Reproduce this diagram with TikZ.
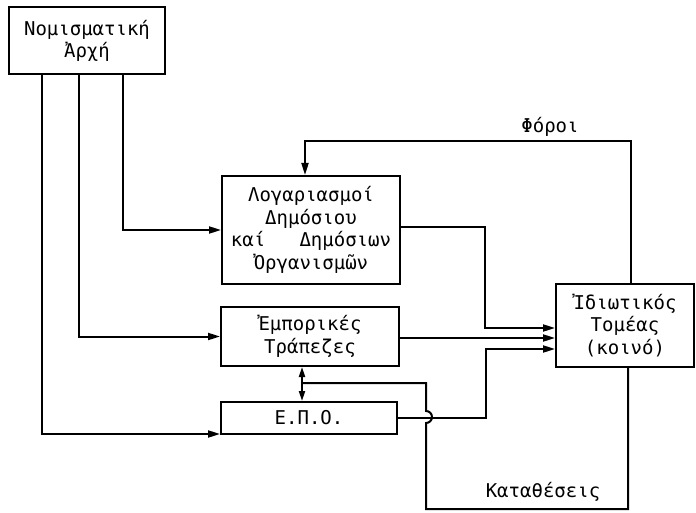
\documentclass[tikz,border=0pt]{standalone}
\usepackage{fontspec}
\newfontfamily\grmono{DejaVu Sans Mono}
\usetikzlibrary{arrows.meta, positioning, calc}

\begin{document}
\begin{tikzpicture}[x=1pt, y=-1pt, line width=2pt,
    box/.style={draw, align=center, inner sep=0pt, font=\grmono\fontsize{19}{22.5}\selectfont},
    lbl/.style={font=\grmono\fontsize{19}{22.5}\selectfont},
    arr/.style={-{Triangle[length=12pt,width=7pt]}},
    darr/.style={{Triangle[length=10pt,width=6pt]}-{Triangle[length=10pt,width=6pt]}}]
    \useasboundingbox (0,0) rectangle (696,513);

    % Boxes
    \node[box, minimum width=156pt, minimum height=67pt] (na) at (87,41) {Νομισματική\\Ἀρχή};
    \node[box, minimum width=178pt, minimum height=108pt] (log) at (311,230)
        {Λογαριασμοί\\Δημόσιου\\καί\ \ \ Δημόσιων\\Ὀργανισμῶν};
    \node[box, minimum width=178pt, minimum height=59pt] (emp) at (310,336.5) {Ἐμπορικές\\Τράπεζες};
    \node[box, minimum width=176pt, minimum height=32pt] (epo) at (309,418) {Ε.Π.Ο.};
    \node[box, minimum width=138pt, minimum height=83pt] (idi) at (625,325.5) {Ἰδιωτικός\\Τομέας\\(κοινό)};

    % Bend points
    \coordinate (tax) at (631,141);
    \coordinate (jt) at (485,328);
    \coordinate (jb) at (486,349);
    \coordinate (dj) at (302,383);
    \coordinate (dk) at (628,509);
    \coordinate (dl) at (426,509);

    % From the monetary authority
    \draw[arr] ([xshift=115pt]na.south west) |- (log.west);
    \draw[arr] ([xshift=71pt]na.south west) |- (emp.west);
    \draw[arr] ([xshift=34pt]na.south west) |- ([yshift=1pt]epo.south west);

    % Taxes
    \draw[arr] (idi.north -| tax) -- (tax) -| ([xshift=-6pt]log.north);
    \node[lbl] (foroi) at (550,127) {Φόροι};

    % Into the private sector
    \draw[arr] ([yshift=3pt]log.east) -| (jt) -- (jt -| idi.west);
    \draw[arr] ([yshift=-12.5pt]idi.west -| emp.east) -- ([yshift=-12.5pt]idi.west);
    \draw[arr] (epo.east) -| (jb) -- (jb -| idi.west);

    % Deposits
    \draw[darr] (emp.south -| dj) -- (epo.north -| dj);
    \draw (idi.south -| dk) -- (dk) -- (dl) -- (426,423)
        arc[start angle=-90, end angle=90, radius=6pt] -- (426,383) -- (dj);
    \node[lbl] (kat) at (543,492) {Καταθέσεις};
\end{tikzpicture}
\end{document}
